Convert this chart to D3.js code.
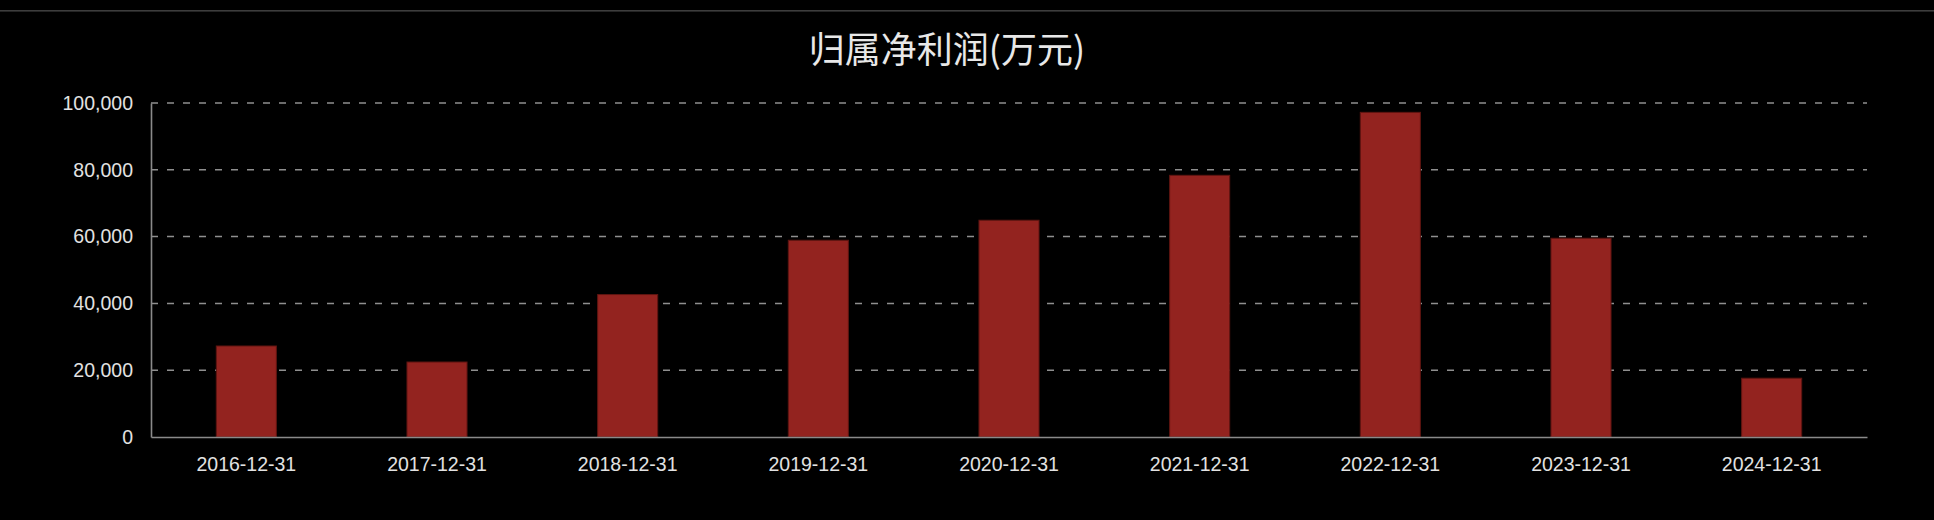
<!DOCTYPE html>
<html>
<head>
<meta charset="utf-8">
<script src="https://cdn.jsdelivr.net/npm/d3@7/dist/d3.min.js"></script>
<style>
  html, body { margin: 0; padding: 0; background: #000; }
  svg { display: block; }
</style>
</head>
<body>
<script>
'use strict';

// Report dates (x categories)
const categories = ['2016-12-31', '2017-12-31', '2018-12-31', '2019-12-31', '2020-12-31',
                    '2021-12-31', '2022-12-31', '2023-12-31', '2024-12-31'];
// 归属净利润, 万元
const profits = [27250, 22450, 42650, 58900, 64900, 78350, 97200, 59500, 17600];
const yTicks = [0, 20000, 40000, 60000, 80000, 100000];
const titleText = '归属净利润(万元)';

const DIMENSIONS = {
	'canvas' : { 'width': 1934, 'height': 520 },
	'plot'   : { 'left': 151, 'right': 1867, 'top': 103, 'bottom': 437 }
};

const FONT = '"Liberation Sans", Arial, Helvetica, sans-serif';

let svg = d3.select('body').append('svg')
	.attr('width', DIMENSIONS.canvas.width)
	.attr('height', DIMENSIONS.canvas.height);

// thin top separator line of the page
svg.append('rect')
	.attr('x', 0).attr('y', 10)
	.attr('width', DIMENSIONS.canvas.width).attr('height', 1.6)
	.attr('fill', '#3d3d3d');

// title
svg.append('text')
	.attr('x', 947).attr('y', 63)
	.attr('text-anchor', 'middle')
	.attr('fill', '#e8e8e8')
	.style('font-family', '"Noto Sans CJK SC", "Noto Sans", sans-serif')
	.style('font-size', '36px')
	.text(titleText);

let xScale = d3.scaleBand()
	.domain(categories)
	.range([DIMENSIONS.plot.left, DIMENSIONS.plot.right])
	.paddingInner(0.685)
	.paddingOuter(0.3425);

let yScale = d3.scaleLinear()
	.domain([0, 100000])
	.range([DIMENSIONS.plot.bottom, DIMENSIONS.plot.top]);

// horizontal dashed grid
svg.append('g').attr('class', 'grid')
	.selectAll('line')
	.data(yTicks.filter((d) => d !== 0))
	.enter()
	.append('line')
	.attr('x1', DIMENSIONS.plot.left)
	.attr('x2', DIMENSIONS.plot.right)
	.attr('y1', (d) => yScale(d))
	.attr('y2', (d) => yScale(d))
	.attr('stroke', '#8f8f8f')
	.attr('stroke-width', 1.5)
	.attr('stroke-dasharray', '7,9');

// bars
svg.append('g').attr('class', 'bars')
	.selectAll('rect')
	.data(profits)
	.enter()
	.append('rect')
	.attr('x', (d, i) => xScale(categories[i]))
	.attr('y', (d) => yScale(d))
	.attr('width', xScale.bandwidth())
	.attr('height', (d) => yScale(0) - yScale(d))
	.attr('fill', '#93231f')
	.attr('stroke', '#5f1511')
	.attr('stroke-width', 1);

// y axis
let yAxis = d3.axisLeft(yScale)
	.tickValues(yTicks)
	.tickFormat(d3.format(','))
	.tickSize(0)
	.tickPadding(18);

let yG = svg.append('g')
	.attr('transform', 'translate(' + DIMENSIONS.plot.left + ',0)')
	.call(yAxis);

// x axis
let xAxis = d3.axisBottom(xScale)
	.tickSize(0)
	.tickPadding(20);

let xG = svg.append('g')
	.attr('transform', 'translate(0,' + DIMENSIONS.plot.bottom + ')')
	.call(xAxis);

[yG, xG].forEach((g) => {
	g.select('.domain').attr('stroke', '#8a8a8a').attr('stroke-width', 1.6);
	g.selectAll('text')
		.attr('fill', '#e2e2e2')
		.style('font-family', FONT)
		.style('font-size', '19.5px');
});
</script>
</body>
</html>
